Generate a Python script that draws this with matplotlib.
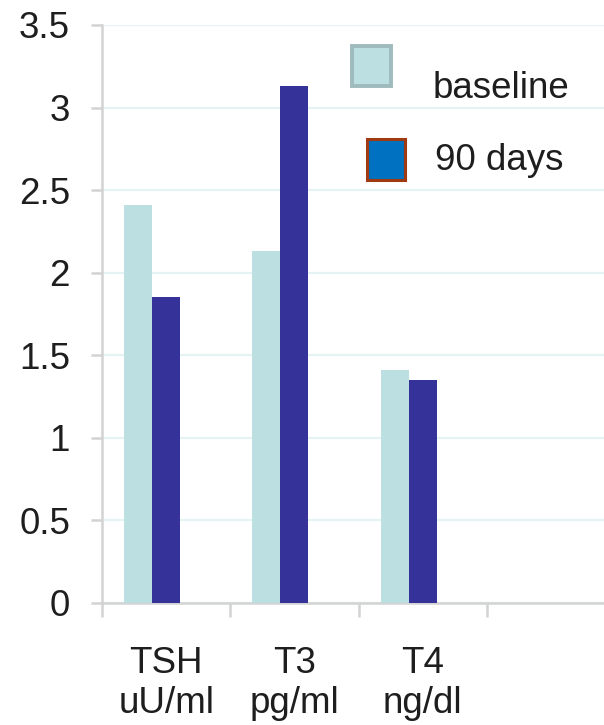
import numpy as np
import matplotlib
matplotlib.use("Agg")
import matplotlib.pyplot as plt
from matplotlib.patches import Rectangle

# thyroid panel, baseline vs. 90 days
categories = ["TSH\nuU/ml", "T3\npg/ml", "T4\nng/dl"]
baseline = [2.41, 2.13, 1.41]
days90 = [1.85, 3.13, 1.35]
series_names = ["baseline", "90 days"]

plt.rcParams["font.family"] = ["Liberation Sans", "DejaVu Sans"]

W, H = 604, 725
fs = 26.5
fig = plt.figure(figsize=(W / 100, H / 100), dpi=100)

# axes: left edge at x=102px, zero line at y=603px, top at y=25px, runs off the right edge
ax = fig.add_axes([102 / W, (H - 603) / H, (W - 102) / W, 578 / H])

slot = 128.3  # px per category slot
bw = 28 / slot
x = np.arange(len(categories)) + 0.5

ax.bar(x - bw, baseline, width=bw, color="#bcdfe2", zorder=3, linewidth=0)
ax.bar(x, days90, width=bw, color="#35339a", zorder=3, linewidth=0)

ax.set_ylim(0, 3.5)
ax.set_xlim(0, (W - 102) / slot)
ax.set_yticks(np.arange(0, 3.51, 0.5))
ax.set_yticklabels(["0", "0.5", "1", "1.5", "2", "2.5", "3", "3.5"])

# category boundaries as major ticks, labels on minor ticks at slot centres
ax.set_xticks([0, 1, 2, 3])
ax.set_xticklabels([])
ax.set_xticks(x, minor=True)
ax.set_xticklabels(categories, minor=True, linespacing=1.2)

gray = "#d3d3d3"
ax.tick_params(axis="y", direction="out", length=8, width=1.8, color=gray,
               labelsize=fs, labelcolor="#1e1e1e", pad=15)
ax.tick_params(axis="x", which="major", direction="out", length=10, width=1.8, color=gray)
ax.tick_params(axis="x", which="minor", length=0, labelsize=fs,
               labelcolor="#1e1e1e", pad=31)

ax.yaxis.grid(True, color="#e6f3f5", linewidth=1.6, zorder=0)
ax.set_axisbelow(True)

for side in ["top", "right"]:
    ax.spines[side].set_visible(False)
for side in ["left", "bottom"]:
    ax.spines[side].set_color(gray)
    ax.spines[side].set_linewidth(1.8)

# legend boxes, placed by hand
def px_rect(x0, y0, x1, y1, face, edge, lw):
    r = Rectangle((x0 / W, (H - y1) / H), (x1 - x0) / W, (y1 - y0) / H,
                  transform=fig.transFigure, facecolor=face, edgecolor=edge,
                  linewidth=lw, zorder=5)
    fig.add_artist(r)

px_rect(352, 46, 391, 86, "#bcdfe2", "#9fbbbd", 2.8)
px_rect(367, 139, 405, 180, "#0070c0", "#a03a12", 2.2)

fig.text(433 / W, (H - 98) / H, series_names[0], fontsize=fs,
         color="#1e1e1e", va="baseline", ha="left")
fig.text(435 / W, (H - 170) / H, series_names[1], fontsize=fs,
         color="#1e1e1e", va="baseline", ha="left")

fig.savefig("out.png", dpi=100)
